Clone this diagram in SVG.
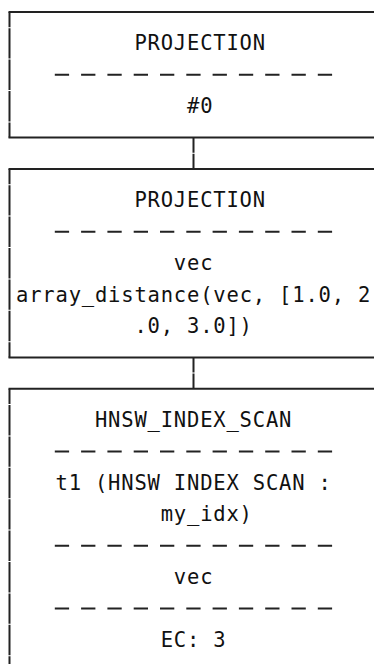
<svg xmlns="http://www.w3.org/2000/svg" width="374" height="664" viewBox="0 0 374 664">
  <style>
    .h { stroke:#222; stroke-width:2; fill:none; stroke-linecap:square; }
    .v { stroke:#222; stroke-width:2; fill:none; stroke-dasharray:30.4 1; stroke-dashoffset:15.2; }
    .d { stroke:#222; stroke-width:2; fill:none; stroke-dasharray:14.3 12; }
    .t { font-family:"DejaVu Sans Mono", "Liberation Mono", monospace; font-size:20.5px; letter-spacing:0.81px; fill:#111; }
  </style>
  <rect width="374" height="664" fill="#fff"/>
  <g id="connectors">
    <line class="v" x1="193.5" y1="137.6" x2="193.5" y2="169"/>
    <line class="v" x1="193.5" y1="357.4" x2="193.5" y2="388.8"/>
  </g>
  <g id="node-projection-1">
    <line class="h" x1="9.5" y1="12" x2="380" y2="12"/>
    <line class="h" x1="9.5" y1="137.6" x2="380" y2="137.6"/>
    <line class="v" x1="9.5" y1="12" x2="9.5" y2="137.6"/>
    <text class="t" x="134.4" y="50.4">PROJECTION</text>
    <line class="d" x1="54.8" y1="74.8" x2="332.1" y2="74.8"/>
    <text class="t" x="187" y="113.2">#0</text>
  </g>
  <g id="node-projection-2">
    <line class="h" x1="9.5" y1="169" x2="380" y2="169"/>
    <line class="h" x1="9.5" y1="357.4" x2="380" y2="357.4"/>
    <line class="v" x1="9.5" y1="169" x2="9.5" y2="357.4"/>
    <text class="t" x="134.4" y="207.4">PROJECTION</text>
    <line class="d" x1="54.8" y1="231.8" x2="332.1" y2="231.8"/>
    <text class="t" x="173.85" y="270.2">vec</text>
    <text class="t" x="16.05" y="301.6">array_distance(vec, [1.0, 2</text>
    <text class="t" x="134.4" y="333">.0, 3.0])</text>
  </g>
  <g id="node-hnsw-index-scan">
    <line class="h" x1="9.5" y1="388.8" x2="380" y2="388.8"/>
    <line class="v" x1="9.5" y1="388.8" x2="9.5" y2="670"/>
    <text class="t" x="94.95" y="427.2">HNSW_INDEX_SCAN</text>
    <line class="d" x1="54.8" y1="451.6" x2="332.1" y2="451.6"/>
    <text class="t" x="55.5" y="490">t1 (HNSW INDEX SCAN :</text>
    <text class="t" x="160.7" y="521.4">my_idx)</text>
    <line class="d" x1="54.8" y1="545.8" x2="332.1" y2="545.8"/>
    <text class="t" x="173.85" y="584.2">vec</text>
    <line class="d" x1="54.8" y1="608.6" x2="332.1" y2="608.6"/>
    <text class="t" x="160.7" y="647">EC: 3</text>
  </g>
</svg>
